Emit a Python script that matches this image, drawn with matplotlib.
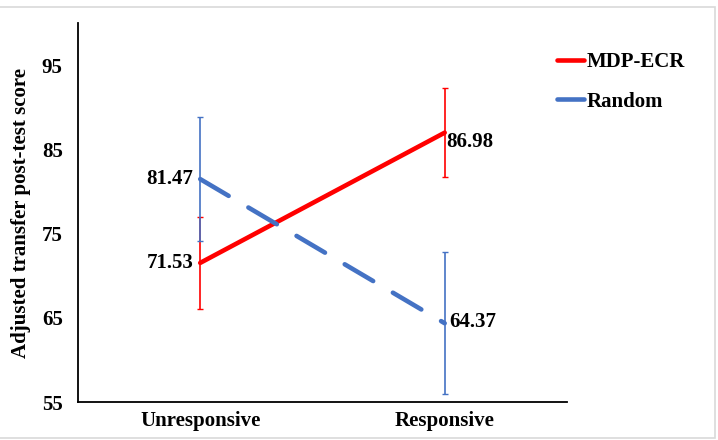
import matplotlib
matplotlib.use('Agg')
import matplotlib.pyplot as plt
from matplotlib.patches import Rectangle

# values
groups = ["Unresponsive", "Responsive"]
mdp_ecr = [71.53, 86.98]
mdp_ecr_err = [5.43, 5.25]
random_cond = [81.47, 64.37]
random_err = [7.4, 8.4]
yticks = [55, 65, 75, 85, 95]

RED = "#FF0000"
BLUE = "#4472C4"
FS = 15

plt.rcParams['font.family'] = ['Liberation Serif', 'DejaVu Serif']
plt.rcParams['font.weight'] = 'bold'

fig = plt.figure(figsize=(7.18, 4.40), dpi=100)
ax = fig.add_axes([0.1086, 0.0859, 0.681, 0.862])

x = list(range(len(groups)))

# error bars (thin, tiny caps)
ax.errorbar(x, mdp_ecr, yerr=mdp_ecr_err, fmt='none', ecolor=RED,
            elinewidth=1.2, capsize=2, capthick=1, zorder=2)
ax.errorbar(x, random_cond, yerr=random_err, fmt='none', ecolor=BLUE,
            elinewidth=1.2, capsize=2, capthick=1, zorder=2)

ax.plot(x, mdp_ecr, color=RED, lw=3.3, solid_capstyle='round',
        label="MDP-ECR", zorder=3)
ln, = ax.plot(x, random_cond, color=BLUE, lw=3.3, label="Random", zorder=3)
ln.set_dashes((7.2, 5.0))
ln.set_dash_capstyle('round')

# data labels
ax.annotate(f"{mdp_ecr[0]:.2f}", (x[0], mdp_ecr[0]), xytext=(-5, 0),
            textcoords='offset points', ha='right', va='center',
            fontsize=FS, fontweight='bold')
ax.annotate(f"{random_cond[0]:.2f}", (x[0], random_cond[0]), xytext=(-5, 0),
            textcoords='offset points', ha='right', va='center',
            fontsize=FS, fontweight='bold')
ax.annotate(f"{mdp_ecr[1]:.2f}", (x[1], mdp_ecr[1]), xytext=(1, -7),
            textcoords='offset points', ha='left', va='center',
            fontsize=FS, fontweight='bold')
ax.annotate(f"{random_cond[1]:.2f}", (x[1], random_cond[1]), xytext=(3, 1),
            textcoords='offset points', ha='left', va='center',
            fontsize=FS, fontweight='bold')

ax.set_xlim(-0.5, 1.5)
ax.set_ylim(55, 100)
ax.set_yticks(yticks)
ax.set_xticks(x)
ax.set_xticklabels(groups)
ax.tick_params(axis='y', length=0, pad=11, labelsize=FS)
ax.tick_params(axis='x', length=0, pad=6, labelsize=FS)
for lbl in ax.get_xticklabels() + ax.get_yticklabels():
    lbl.set_fontweight('bold')

for side in ['top', 'right']:
    ax.spines[side].set_visible(False)
for side in ['left', 'bottom']:
    ax.spines[side].set_linewidth(1.3)
    ax.spines[side].set_color('black')

ax.set_ylabel("Adjusted transfer post-test score", fontsize=FS,
              fontweight='bold')
ax.yaxis.set_label_coords(-0.097, 0.5)

fig.legend(loc='upper left', bbox_to_anchor=(0.776, 0.882), frameon=False,
           prop={'size': FS, 'weight': 'bold'}, handlelength=1.3,
           handletextpad=0.1, labelspacing=0.95, borderaxespad=0,
           borderpad=0)

# light gray frame around the whole chart
fig.patches.append(Rectangle((-0.01, 0.005), 1.006, 0.98,
                             transform=fig.transFigure, fill=False,
                             edgecolor='#d9d9d9', lw=1.2))

fig.savefig("out.png", dpi=100)
